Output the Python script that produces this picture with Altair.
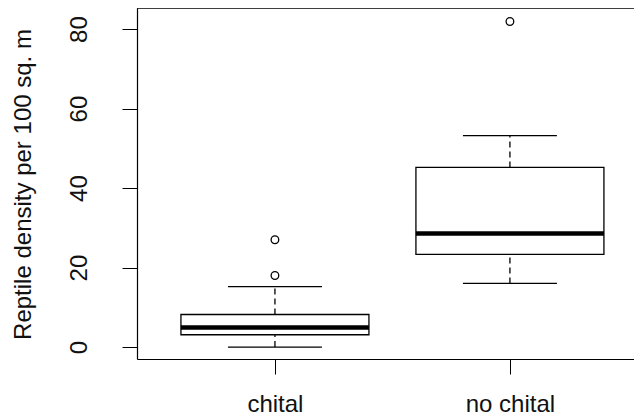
import altair as alt
import pandas as pd

groups = ["chital", "no chital"]
positions = [1, 2]
lower_whisker = [0.0, 16.0]
q1 = [3.1, 23.3]
median = [4.9, 28.6]
q3 = [8.2, 45.2]
upper_whisker = [15.2, 53.2]

outlier_group = ["chital", "chital", "no chital"]
outlier_pos = [1, 1, 2]
outlier_val = [27.0, 18.0, 81.9]

y_ticks = [0, 20, 40, 60, 80]

stats = pd.DataFrame({
    "group": groups, "pos": positions, "lo": lower_whisker, "q1": q1,
    "med": median, "q3": q3, "hi": upper_whisker,
})
outs = pd.DataFrame({"group": outlier_group, "pos": outlier_pos, "val": outlier_val})

W, H = 497, 351
FONT = "Liberation Sans"
FS = 24

xscale = alt.Scale(domain=[0.413, 2.528], nice=False, zero=False)
yscale = alt.Scale(domain=[-3.0, 85.3], nice=False, zero=False)

label_expr = "datum.value == 1 ? 'chital' : (datum.value == 2 ? 'no chital' : '')"

xaxis = alt.Axis(values=positions, labelExpr=label_expr, title=None, grid=False,
                 domainColor="black", domainWidth=1.2, tickColor="black", tickSize=15,
                 labelFont=FONT, labelFontSize=FS, labelColor="#111",
                 labelBaseline="alphabetic", labelPadding=37)
yaxis = alt.Axis(values=y_ticks, title="Reptile density per 100 sq. m", grid=False,
                 domainColor="black", domainWidth=1.2, tickColor="black", tickSize=15,
                 labelFont=FONT, labelFontSize=FS, labelColor="#111", labelAngle=270,
                 labelAlign="center", labelBaseline="bottom", labelPadding=31,
                 titleFont=FONT, titleFontSize=FS, titleFontWeight="normal", titleColor="#111",
                 titleAngle=270, titleAlign="center", titleBaseline="alphabetic",
                 titleX=-107, titleY=176)

base = alt.Chart(stats).transform_calculate(
    blo="datum.pos - 0.4", bhi="datum.pos + 0.4",
    clo="datum.pos - 0.2", chi="datum.pos + 0.2",
)

box = base.mark_rect(fill="white", stroke="black", strokeWidth=1.3).encode(
    x=alt.X("blo:Q", scale=xscale, axis=xaxis),
    x2="bhi:Q",
    y=alt.Y("q1:Q", scale=yscale, axis=yaxis),
    y2="q3:Q",
)
med = base.mark_rule(color="black", strokeWidth=4.5).encode(
    x=alt.X("blo:Q", scale=xscale), x2="bhi:Q", y=alt.Y("med:Q", scale=yscale))
wh_up = base.mark_rule(color="black", strokeWidth=1.3, strokeDash=[6, 4]).encode(
    x=alt.X("pos:Q", scale=xscale), y=alt.Y("q3:Q", scale=yscale), y2="hi:Q")
wh_lo = base.mark_rule(color="black", strokeWidth=1.3, strokeDash=[6, 4]).encode(
    x=alt.X("pos:Q", scale=xscale), y=alt.Y("lo:Q", scale=yscale), y2="q1:Q")
cap_up = base.mark_rule(color="black", strokeWidth=1.3).encode(
    x=alt.X("clo:Q", scale=xscale), x2="chi:Q", y=alt.Y("hi:Q", scale=yscale))
cap_lo = base.mark_rule(color="black", strokeWidth=1.3).encode(
    x=alt.X("clo:Q", scale=xscale), x2="chi:Q", y=alt.Y("lo:Q", scale=yscale))
pts = alt.Chart(outs).mark_point(shape="circle", filled=False, color="black",
                                 strokeWidth=1.3, size=58, opacity=1).encode(
    x=alt.X("pos:Q", scale=xscale), y=alt.Y("val:Q", scale=yscale))
top_border = alt.Chart(stats).mark_rule(color="black", strokeWidth=1.2).encode(
    x=alt.value(0), x2=alt.value(W), y=alt.value(0))

chart = alt.layer(box, wh_up, wh_lo, cap_up, cap_lo, med, pts, top_border).properties(
    width=W, height=H,
    autosize=alt.AutoSizeParams(type="none"),
    padding={"left": 129, "top": 0, "right": 0, "bottom": 58},
    background="white",
).configure_view(stroke=None)

chart.save("out.html", embed_options={"renderer": "svg", "actions": False})
